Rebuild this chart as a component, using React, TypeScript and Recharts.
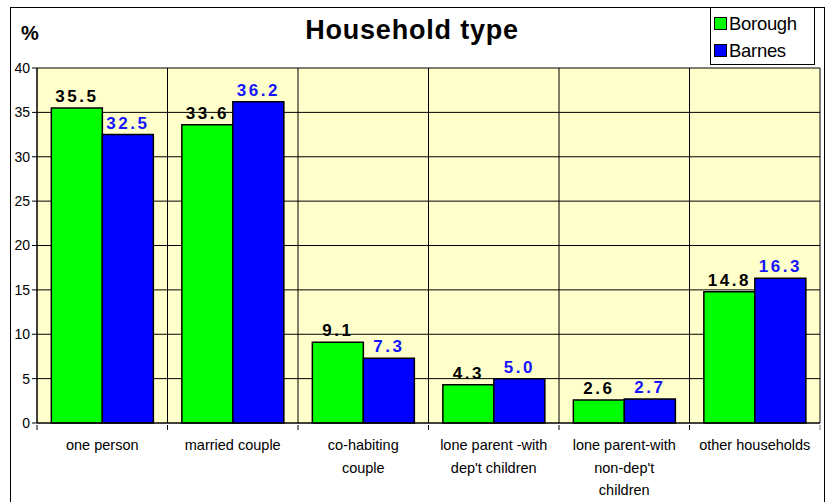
import React from "react";
import {
  Bar,
  BarChart,
  CartesianGrid,
  LabelList,
  XAxis,
  YAxis,
} from "recharts";

const categories = [
  "one person",
  "married couple",
  "co-habiting\ncouple",
  "lone parent -with\ndep't children",
  "lone parent-with\nnon-dep't\nchildren",
  "other households",
];
const borough = [35.5, 33.6, 9.1, 4.3, 2.6, 14.8];
const barnes = [32.5, 36.2, 7.3, 5.0, 2.7, 16.3];
const yTicks = [0, 5, 10, 15, 20, 25, 30, 35, 40];

const data = categories.map((name, i) => ({
  name,
  Borough: borough[i],
  Barnes: barnes[i],
}));

const font = "Arial, 'Liberation Sans', sans-serif";

const CategoryTick = (props: any) => {
  const { x, y, payload, width, visibleTicksCount, index } = props;
  const step = width / visibleTicksCount;
  const lines = String(payload.value).split("\n");
  return (
    <g>
      <line x1={x - step / 2} x2={x - step / 2} y1={y} y2={y + 5} stroke="#000" />
      {index === visibleTicksCount - 1 && (
        <line x1={x + step / 2} x2={x + step / 2} y1={y} y2={y + 5} stroke="#808080" />
      )}
      <text x={x} y={y + 25} textAnchor="middle" fontSize={14.5} fontFamily={font} fill="#000">
        {lines.map((l, i) => (
          <tspan key={i} x={x} dy={i === 0 ? 0 : 22.5}>
            {l}
          </tspan>
        ))}
      </text>
    </g>
  );
};

const fmt = (v: any) => Number(v).toFixed(1);

export default function App() {
  return (
    <div style={{ position: "absolute", left: 0, top: 0, width: 834, height: 502, background: "#fff", overflow: "hidden" }}>
      <div
        style={{
          position: "absolute",
          left: 10,
          top: 7,
          width: 815,
          height: 520,
          border: "1px solid #000",
          boxSizing: "border-box",
        }}
      />
      <BarChart
        width={834}
        height={502}
        data={data}
        margin={{ top: 68, right: 14, left: 7, bottom: 0 }}
        barCategoryGap="11%"
        barGap={0}
        style={{ position: "absolute", left: 0, top: 0 }}
      >
        <CartesianGrid
          stroke="#000"
          fill="#FFFFCC"
          fillOpacity={1}
          verticalCoordinatesGenerator={({ offset }: any) =>
            categories.map((_, i) => offset.left + (i * offset.width) / categories.length).concat([offset.left + offset.width])
          }
        />
        <XAxis
          dataKey="name"
          interval={0}
          height={79}
          tickLine={false}
          tickSize={0}
          axisLine={{ stroke: "#000" }}
          tick={<CategoryTick />}
        />
        <YAxis
          domain={[0, 40]}
          ticks={yTicks}
          width={30}
          tickSize={5}
          tickMargin={2}
          axisLine={{ stroke: "#000" }}
          tickLine={{ stroke: "#000" }}
          tick={{ fontSize: 14, fontFamily: font, fill: "#000" }}
        />
        <Bar dataKey="Borough" fill="#00FF00" stroke="#000" strokeWidth={1.5} isAnimationActive={false}>
          <LabelList
            dataKey="Borough"
            position="top"
            offset={6}
            formatter={fmt}
            style={{ fontSize: 17, fontWeight: "bold", fontFamily: font, fill: "#000", letterSpacing: 2.5 }}
          />
        </Bar>
        <Bar dataKey="Barnes" fill="#0000FF" stroke="#000" strokeWidth={1.5} isAnimationActive={false}>
          <LabelList
            dataKey="Barnes"
            position="top"
            offset={6}
            formatter={fmt}
            style={{ fontSize: 17, fontWeight: "bold", fontFamily: font, fill: "#1414ff", letterSpacing: 2.5 }}
          />
        </Bar>
      </BarChart>
      <div
        style={{
          position: "absolute",
          left: 0,
          width: 824,
          top: 15,
          textAlign: "center",
          fontFamily: font,
          fontWeight: "bold",
          fontSize: 27,
          letterSpacing: 0.8,
        }}
      >
        Household type
      </div>
      <div
        style={{
          position: "absolute",
          left: 21,
          top: 22,
          fontFamily: font,
          fontWeight: "bold",
          fontSize: 20,
        }}
      >
        %
      </div>
      <div
        style={{
          position: "absolute",
          left: 710,
          top: 7,
          width: 105,
          height: 58,
          border: "1px solid #000",
          boxSizing: "border-box",
          background: "#fff",
          fontFamily: font,
          fontSize: 18.5,
          paddingLeft: 3,
          paddingTop: 2,
          letterSpacing: -0.3,
        }}
      >
        {[
          { name: "Borough", color: "#00FF00" },
          { name: "Barnes", color: "#0000FF" },
        ].map((it) => (
          <div key={it.name} style={{ display: "flex", alignItems: "center", height: 27 }}>
            <span
              style={{
                display: "inline-block",
                width: 13,
                height: 13,
                background: it.color,
                border: "1px solid #000",
                boxSizing: "border-box",
                marginRight: 2,
              }}
            />
            {it.name}
          </div>
        ))}
      </div>
    </div>
  );
}
